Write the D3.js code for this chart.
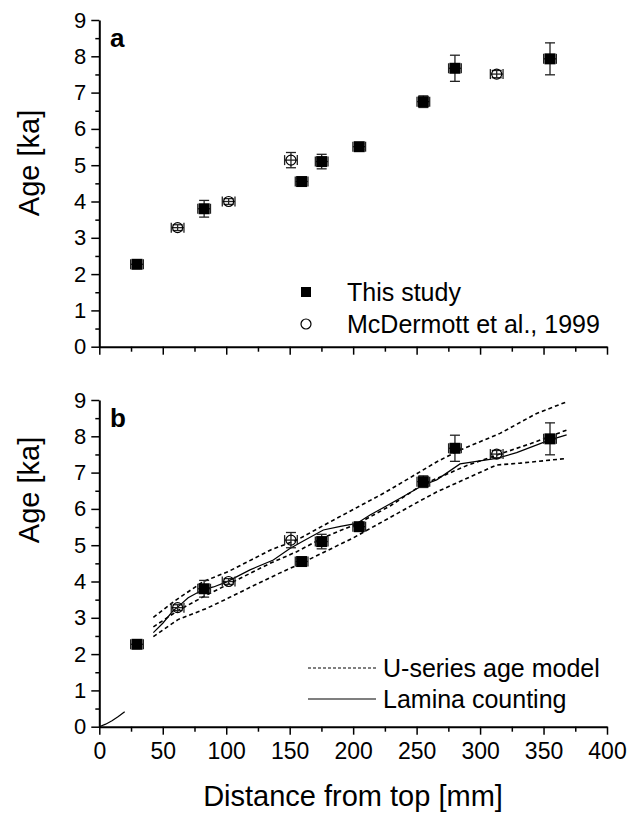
<!DOCTYPE html>
<html><head><meta charset="utf-8">
<script src="https://cdn.jsdelivr.net/npm/d3@7/dist/d3.min.js"></script>
<style>
body{margin:0;background:#fff;}
svg text{font-family:"Liberation Sans",Arial,Helvetica,sans-serif;fill:#000;}
</style></head>
<body>
<svg id="chart" width="638" height="814"></svg>
<script>
// ---- data ----
const xTicks = [0, 50, 100, 150, 200, 250, 300, 350, 400];
const yTicks = [0, 1, 2, 3, 4, 5, 6, 7, 8, 9];
const studyX = [29.7, 82.6, 159.4, 175.2, 204.8, 255.3, 280.2, 355.1];
const studyY = [2.27, 3.80, 4.55, 5.10, 5.51, 6.75, 7.67, 7.93];
const studyErr = [0.08, 0.23, 0.08, 0.20, 0.08, 0.16, 0.36, 0.44];
const mcdX = [61.7, 101.9, 151.0, 313.1];
const mcdY = [3.28, 4.00, 5.14, 7.51];
const mcdErr = [0.08, 0.08, 0.21, 0.10];
const xErr = 5;
const upperX = [42.6, 60, 82, 102, 120, 135, 155.5, 187, 225, 252.6, 266, 284.2, 315.7, 344.6, 368.2];
const upperY = [3.01, 3.48, 4.0, 4.28, 4.6, 4.87, 5.14, 5.74, 6.45, 7.02, 7.3, 7.62, 8.08, 8.63, 8.95];
const midX = [42.6, 62, 84.6, 102, 134.5, 155.5, 176, 205, 230, 255, 266, 290, 313, 340, 368.2];
const midY = [2.75, 3.2, 3.63, 3.93, 4.5, 4.82, 5.2, 5.62, 6.1, 6.68, 6.84, 7.2, 7.48, 7.8, 8.17];
const lowerX = [42.6, 62, 84.6, 102, 120, 142, 159, 200, 252.6, 266, 313, 331.5, 368.2];
const lowerY = [2.48, 2.95, 3.26, 3.55, 3.86, 4.23, 4.5, 5.2, 6.22, 6.47, 7.21, 7.26, 7.39];
const laminaX = [42.6, 50, 58.3, 62, 70, 81.9, 90, 100.4, 118.7, 137.1, 150.2, 160, 176.5, 190, 202.8, 213.3, 239.5, 255.3, 265.8, 284.2, 313, 328.8, 355.1, 368.2];
const laminaY = [2.59, 2.85, 3.2, 3.3, 3.55, 3.78, 3.85, 3.99, 4.32, 4.59, 4.91, 5.1, 5.42, 5.52, 5.6, 5.83, 6.34, 6.66, 6.8, 7.24, 7.39, 7.55, 7.9, 8.04];
const originX = [0, 5, 10, 15, 20];
const originY = [0, 0.07, 0.165, 0.28, 0.41];

// ---- layout ----
const svg = d3.select("#chart");
const x = d3.scaleLinear().domain([0, 400]).range([99.3, 607]);
const panels = [
  {top: 20, bottom: 346.7, label: "a", titleY: 163},
  {top: 400, bottom: 726.7, label: "b", titleY: 490}
];

function zip(xs, ys){ return xs.map((v,i)=>[v, ys[i]]); }

panels.forEach((p, pi) => {
  const y = d3.scaleLinear().domain([0, 9]).range([p.bottom, p.top]);
  const g = svg.append("g");

  // minor ticks
  const minorY = d3.range(0.5, 9, 1);
  const minorX = d3.range(25, 400, 50);
  g.append("g").attr("transform", `translate(${x(0)},0)`)
    .call(d3.axisLeft(y).tickValues(minorY).tickSize(4).tickSizeOuter(0).tickFormat(""))
    .call(s => s.select(".domain").remove())
    .call(s => s.selectAll("line").attr("stroke-width", 1.5));
  g.append("g").attr("transform", `translate(0,${p.bottom})`)
    .call(d3.axisBottom(x).tickValues(minorX).tickSize(5).tickSizeOuter(0).tickFormat(""))
    .call(s => s.select(".domain").remove())
    .call(s => s.selectAll("line").attr("stroke-width", 1.5));

  // major axes
  const ya = g.append("g").attr("transform", `translate(${x(0)},0)`)
    .call(d3.axisLeft(y).tickValues(yTicks).tickSize(8).tickSizeOuter(0).tickPadding(5));
  ya.select(".domain").attr("stroke-width", 2);
  ya.selectAll("line").attr("stroke-width", 1.5);
  ya.selectAll("text").attr("font-size", 22).attr("font-family", "Liberation Sans, Arial, sans-serif");

  const xa = g.append("g").attr("transform", `translate(0,${p.bottom})`)
    .call(d3.axisBottom(x).tickValues(xTicks).tickSize(8).tickSizeOuter(0).tickPadding(8)
      .tickFormat(pi === 1 ? d3.format("d") : ""));
  xa.select(".domain").attr("stroke-width", 2);
  xa.selectAll("line").attr("stroke-width", 1.5);
  xa.selectAll("text").attr("font-size", 23).attr("font-family", "Liberation Sans, Arial, sans-serif");

  // y title
  g.append("text").attr("transform", `translate(39,${p.titleY}) rotate(-90)`)
    .attr("text-anchor", "middle").attr("font-size", 29).text("Age [ka]");
  // panel label
  g.append("text").attr("x", 110).attr("y", p.top + 27)
    .attr("font-size", 26).attr("font-weight", "bold").text(p.label);

  // lines for panel b
  if (pi === 1) {
    const line = d3.line().x(d => x(d[0])).y(d => y(d[1]));
    [zip(upperX, upperY), zip(midX, midY), zip(lowerX, lowerY)].forEach(d => {
      g.append("path").attr("d", line(d)).attr("fill", "none").attr("stroke", "#000")
        .attr("stroke-width", 1.6).attr("stroke-dasharray", "4,3");
    });
    [zip(laminaX, laminaY), zip(originX, originY)].forEach(d => {
      g.append("path").attr("d", line(d)).attr("fill", "none").attr("stroke", "#000")
        .attr("stroke-width", 1.2);
    });
  }

  // error bars
  function errBars(xs, ys, es, half) {
    xs.forEach((xv, i) => {
      const cx = x(xv), cy = y(ys[i]);
      const y1 = y(ys[i] + es[i]), y2 = y(ys[i] - es[i]);
      const x1 = x(xv - xErr), x2 = x(xv + xErr);
      const eg = g.append("g").attr("stroke", "#222").attr("stroke-width", 1.3).attr("fill", "none");
      eg.append("line").attr("x1", cx).attr("x2", cx).attr("y1", y1).attr("y2", y2);
      eg.append("line").attr("x1", cx - 5).attr("x2", cx + 5).attr("y1", y1).attr("y2", y1);
      eg.append("line").attr("x1", cx - 5).attr("x2", cx + 5).attr("y1", y2).attr("y2", y2);
      eg.append("line").attr("x1", x1).attr("x2", x2).attr("y1", cy).attr("y2", cy);
      eg.append("line").attr("x1", x1).attr("x2", x1).attr("y1", cy - half).attr("y2", cy + half);
      eg.append("line").attr("x1", x2).attr("x2", x2).attr("y1", cy - half).attr("y2", cy + half);
    });
  }
  errBars(studyX, studyY, studyErr, 5);
  errBars(mcdX, mcdY, mcdErr, 5);

  g.selectAll(".sq").data(zip(studyX, studyY)).enter().append("rect")
    .attr("x", d => x(d[0]) - 5.5).attr("y", d => y(d[1]) - 5.5)
    .attr("width", 11).attr("height", 11).attr("fill", "#000");
  g.selectAll(".ci").data(zip(mcdX, mcdY)).enter().append("circle")
    .attr("cx", d => x(d[0])).attr("cy", d => y(d[1])).attr("r", 5)
    .attr("fill", "none").attr("stroke", "#000").attr("stroke-width", 1.2);

  // legends
  if (pi === 0) {
    g.append("rect").attr("x", 301).attr("y", 287).attr("width", 10).attr("height", 10).attr("fill", "#000");
    g.append("circle").attr("cx", 306).attr("cy", 324).attr("r", 5).attr("fill", "none").attr("stroke", "#000").attr("stroke-width", 1.2);
    g.append("text").attr("x", 347).attr("y", 301).attr("font-size", 25).text("This study");
    g.append("text").attr("x", 347).attr("y", 333).attr("font-size", 25).text("McDermott et al., 1999");
  } else {
    g.append("line").attr("x1", 308).attr("x2", 376).attr("y1", 668).attr("y2", 668)
      .attr("stroke", "#000").attr("stroke-width", 1).attr("stroke-dasharray", "3,2");
    g.append("line").attr("x1", 308).attr("x2", 376).attr("y1", 699).attr("y2", 699)
      .attr("stroke", "#000").attr("stroke-width", 1.2);
    g.append("text").attr("x", 383).attr("y", 677).attr("font-size", 25).text("U-series age model");
    g.append("text").attr("x", 383).attr("y", 708).attr("font-size", 25).text("Lamina counting");
  }
});

svg.append("text").attr("x", 353).attr("y", 806).attr("text-anchor", "middle")
  .attr("font-size", 29).text("Distance from top [mm]");
</script>
</body></html>
